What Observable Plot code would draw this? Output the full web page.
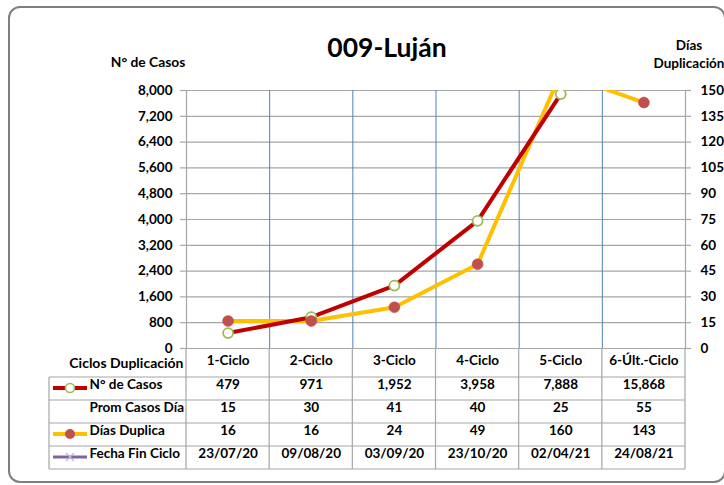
<!DOCTYPE html>
<html><head><meta charset="utf-8">
<script src="https://cdn.jsdelivr.net/npm/d3@7"></script>
<script src="https://cdn.jsdelivr.net/npm/@observablehq/plot@0.6"></script>
<style>
body{margin:0;background:#fff;}
#chart{position:relative;width:724px;height:485px;overflow:hidden;}
svg{font-family:Lato,"Open Sans",sans-serif;}
</style></head>
<body><div id="chart"></div>
<script>
const ciclos = ["1-Ciclo","2-Ciclo","3-Ciclo","4-Ciclo","5-Ciclo","6-Últ.-Ciclo"];
const casos = [479, 971, 1952, 3958, 7888, 15868];
const promCasosDia = [15, 30, 41, 40, 25, 55];
const diasDuplica = [16, 16, 24, 49, 160, 143];
const fechaFin = ["23/07/20","09/08/20","03/09/20","23/10/20","02/04/21","24/08/21"];
const leftTicks = [0, 800, 1600, 2400, 3200, 4000, 4800, 5600, 6400, 7200, 8000];
const rightTicks = [0, 15, 30, 45, 60, 75, 90, 105, 120, 135, 150];
const rowLabels = ["N° de Casos", "Prom Casos Día", "Días Duplica", "Fecha Fin Ciclo"];

const W = 724, H = 485;
const mL = 186, mR = 39, mT = 90, mB = 137;
const LMAX = 8000, RMAX = 150, k = LMAX / RMAX;
const colPx = (W - mL - mR) / ciclos.length;
const tickLen = 6 / colPx;
const FONT = 13.5;

const rowsText = [casos.map(d3.format(",")), promCasosDia.map(String), diasDuplica.map(String), fechaFin];
const rowDy = [40, 63, 86, 109];

const marks = [
  Plot.ruleY(leftTicks, {y: d => d, stroke: "#a6a6a6", strokeWidth: 1.2}),
  Plot.ruleX([0.5, 1.5, 2.5, 3.5, 4.5], {x: d => d, stroke: "#4f81bd", strokeWidth: 1}),
  Plot.ruleX([-0.5, 5.5], {x: d => d, stroke: "#a6a6a6", strokeWidth: 1.2}),
  Plot.ruleY(leftTicks, {y: d => d, x1: -0.5 - tickLen, x2: -0.5, stroke: "#a6a6a6", strokeWidth: 1.2}),
  Plot.ruleY(rightTicks, {y: d => d * k, x1: 5.5, x2: 5.5 + tickLen, stroke: "#a6a6a6", strokeWidth: 1.2}),
  Plot.text(leftTicks, {x: -0.5, y: d => d, text: d3.format(","), textAnchor: "end", dx: -14, fontWeight: "bold", fontSize: 13.5, fill: "#000"}),
  Plot.text(rightTicks, {x: 5.5, y: d => d * k, text: d => String(d), textAnchor: "start", dx: 15, fontWeight: "bold", fontSize: 13.5, fill: "#000"}),
  Plot.line(diasDuplica, {x: (d, i) => i, y: d => d * k, stroke: "#ffc000", strokeWidth: 4, clip: true}),
  Plot.line(casos, {x: (d, i) => i, y: d => d, stroke: "#c00000", strokeWidth: 4, clip: true}),
  Plot.dot(casos, {x: (d, i) => i, y: d => d, r: 5, fill: "#fff", stroke: "#9bbb59", strokeWidth: 1.8, clip: true}),
  Plot.dot(diasDuplica, {x: (d, i) => i, y: d => d * k, r: 5.5, fill: "#c0504d", stroke: "#c0504d", strokeWidth: 0.5, clip: true}),
  Plot.text(ciclos, {x: (d, i) => i, text: d => d, frameAnchor: "bottom", dy: 16, fontWeight: "bold", fontSize: FONT, fill: "#000"}),
  Plot.text(["Ciclos Duplicación"], {x: -0.5, text: d => d, frameAnchor: "bottom", dy: 19, dx: -3, textAnchor: "end", fontWeight: "bold", fontSize: 14, fill: "#000"})
];
rowLabels.forEach((lab, r) => {
  marks.push(Plot.text([lab], {x: -0.5, text: d => d, frameAnchor: "bottom", dy: rowDy[r], dx: -97, textAnchor: "start", fontWeight: "bold", fontSize: FONT, fill: "#000"}));
  marks.push(Plot.text(rowsText[r], {x: (d, i) => i, text: d => d, frameAnchor: "bottom", dy: rowDy[r], fontWeight: "bold", fontSize: FONT, fill: "#000"}));
});

const chart = Plot.plot({
  width: W, height: H,
  marginLeft: mL, marginRight: mR, marginTop: mT, marginBottom: mB,
  x: {type: "linear", domain: [-0.5, 5.5], axis: null},
  y: {type: "linear", domain: [0, LMAX], axis: null},
  style: {background: "transparent", fontFamily: "Lato, 'Open Sans', sans-serif", overflow: "visible"},
  marks
});
document.getElementById("chart").appendChild(chart);

const svg = d3.select(chart);
// fit "Ciclos Duplicación" to the reference width (~120px)
svg.selectAll("text").filter(function() { return this.textContent === "Ciclos Duplicación"; })
  .each(function() {
    const w = this.getComputedTextLength();
    if (w > 120) { this.setAttribute("textLength", 120); this.setAttribute("lengthAdjust", "spacingAndGlyphs"); }
  });
const sx = chart.scale("x"), sy = chart.scale("y");
const xs = d3.scaleLinear(sx.domain, sx.range);
const ys = d3.scaleLinear(sy.domain, sy.range);

// frame
svg.insert("rect", ":first-child").attr("x", 9).attr("y", 7).attr("width", 716).attr("height", 475)
  .attr("rx", 11).attr("fill", "#fff").attr("stroke", "#7f7f7f").attr("stroke-width", 2);

// titles
svg.append("text").attr("x", 387).attr("y", 57).attr("text-anchor", "middle")
  .attr("font-weight", "bold").attr("font-size", 26.5).attr("fill", "#000").text("009-Luján");
svg.append("text").attr("x", 148).attr("y", 67).attr("text-anchor", "middle")
  .attr("font-weight", "bold").attr("font-size", 13.8).attr("fill", "#000").text("N° de Casos");
svg.append("text").attr("x", 689).attr("y", 50).attr("text-anchor", "middle")
  .attr("font-weight", "bold").attr("font-size", 13.5).attr("fill", "#000").text("Días");
svg.append("text").attr("x", 689).attr("y", 68).attr("text-anchor", "middle")
  .attr("font-weight", "bold").attr("font-size", 13.5).attr("fill", "#000").text("Duplicación");

// table grid
const g = svg.append("g").attr("stroke", "#a6a6a6").attr("stroke-width", 1.2);
const y0 = ys(0);
const hLines = [377, 400, 423, 446, 469];
hLines.forEach(y => g.append("line").attr("x1", 49).attr("x2", xs(5.5)).attr("y1", y).attr("y2", y));
g.append("line").attr("x1", 49).attr("x2", 49).attr("y1", hLines[0]).attr("y2", hLines[4]);
for (let b = -0.5; b <= 5.5; b += 1) {
  g.append("line").attr("x1", xs(b)).attr("x2", xs(b)).attr("y1", y0).attr("y2", hLines[4]);
}

// legend keys
const keyY = [388, 434, 457];
const lg = svg.append("g");
lg.append("line").attr("x1", 53).attr("x2", 87).attr("y1", keyY[0]).attr("y2", keyY[0]).attr("stroke", "#c00000").attr("stroke-width", 4);
lg.append("circle").attr("cx", 70).attr("cy", keyY[0]).attr("r", 4.5).attr("fill", "#fff").attr("stroke", "#9bbb59").attr("stroke-width", 1.6);
lg.append("line").attr("x1", 53).attr("x2", 87).attr("y1", keyY[1]).attr("y2", keyY[1]).attr("stroke", "#ffc000").attr("stroke-width", 4);
lg.append("circle").attr("cx", 70).attr("cy", keyY[1]).attr("r", 5).attr("fill", "#c0504d");
lg.append("line").attr("x1", 53).attr("x2", 87).attr("y1", keyY[2]).attr("y2", keyY[2]).attr("stroke", "#8064a2").attr("stroke-width", 3);
lg.append("path").attr("d", `M66,${keyY[2]-4}L74,${keyY[2]+4}M66,${keyY[2]+4}L74,${keyY[2]-4}`).attr("stroke", "#bcb0d4").attr("stroke-width", 1.2);
</script>
</body></html>
